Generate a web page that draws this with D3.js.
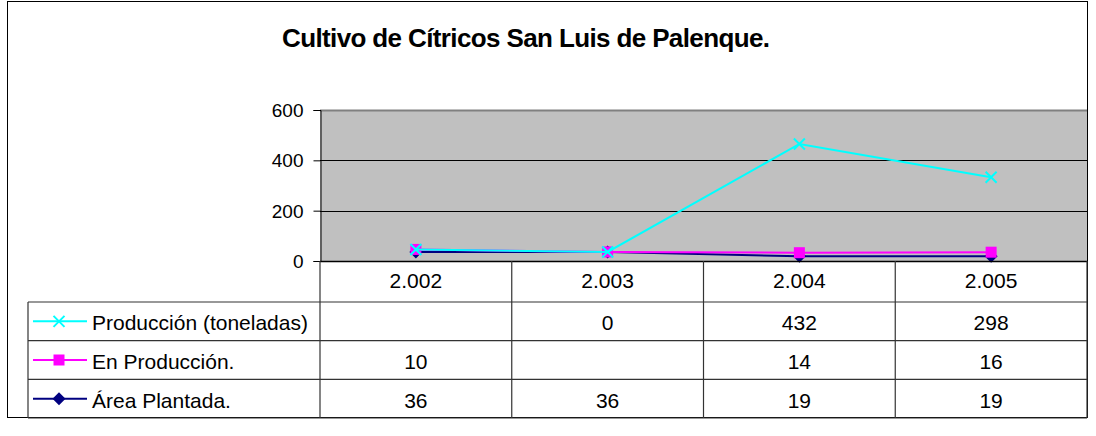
<!DOCTYPE html>
<html>
<head>
<meta charset="utf-8">
<script src="https://cdn.jsdelivr.net/npm/d3@7"></script>
<style>
  body { margin: 0; background: #fff; }
  svg { font-family: "Liberation Sans", Arial, sans-serif; }
</style>
</head>
<body>
<div id="chart"></div>
<script>
// --- Data (table values; chart is a stacked line) ---
const years = ["2.002", "2.003", "2.004", "2.005"];
const seriesNames = ["Producción (toneladas)", "En Producción.", "Área Plantada."];
const produccion = [null, 0, 432, 298];
const enProduccion = [10, null, 14, 16];
const areaPlantada = [36, 36, 19, 19];
const yTicks = [0, 200, 400, 600];

const colors = ["#00FFFF", "#FF00FF", "#000080"];
const markers = ["x", "square", "diamond"];
const rows = [produccion, enProduccion, areaPlantada];

const W = 1096, H = 436;
const plot = { left: 320, right: 1087, top: 110, bottom: 261 };
const tableTop = 302, tableBottom = 418, tableLeft = 28;
const tableFont = 21;

const svg = d3.select("#chart").append("svg")
  .attr("width", W).attr("height", H);

// chart area border
svg.append("rect")
  .attr("x", 7.5).attr("y", 1.5)
  .attr("width", 1080).attr("height", 416)
  .attr("fill", "#fff").attr("stroke", "#000").attr("stroke-width", 1);

// title
svg.append("text")
  .attr("x", 526).attr("y", 47)
  .attr("text-anchor", "middle")
  .attr("font-size", 26).attr("font-weight", "bold")
  .attr("textLength", 488).attr("lengthAdjust", "spacing")
  .text("Cultivo de Cítricos San Luis de Palenque.");

// Scales
const x = d3.scaleBand().domain(years).range([plot.left, plot.right]);
const y = d3.scaleLinear().domain([0, 600]).range([plot.bottom, plot.top]);
const rowY = d3.scaleBand().domain(seriesNames).range([tableTop, tableBottom]);

// plot background
svg.append("rect")
  .attr("x", plot.left).attr("y", plot.top)
  .attr("width", plot.right - plot.left).attr("height", plot.bottom - plot.top)
  .attr("fill", "#C0C0C0");

// gridlines
svg.append("g").selectAll("line")
  .data(yTicks.filter(d => d > 0))
  .enter().append("line")
  .attr("x1", plot.left).attr("x2", plot.right)
  .attr("y1", d => Math.round(y(d)) + 0.5).attr("y2", d => Math.round(y(d)) + 0.5)
  .attr("stroke", d => d === 600 ? "#808080" : "#000").attr("stroke-width", d => d === 600 ? 2 : 1);

// y axis
const yAxis = svg.append("g")
  .attr("transform", `translate(${plot.left + 0.5},0)`)
  .call(d3.axisLeft(y).tickValues(yTicks).tickSize(7).tickPadding(10).tickFormat(d3.format("d")));
yAxis.selectAll("text").attr("font-size", 19).attr("fill", "#000")
  .attr("font-family", "Liberation Sans, Arial, sans-serif").attr("dy", "0.34em");
yAxis.selectAll("line, path").attr("stroke", "#000");

// stacked values (blank treated as zero)
const vals = rows.map(r => r.map(v => v == null ? 0 : v));
const stackArea = vals[2];
const stackEn = vals[1].map((v, i) => v + stackArea[i]);
const stackProd = vals[0].map((v, i) => v + stackEn[i]);
const stacked = [stackProd, stackEn, stackArea];

function drawMarker(g, type, color, cx, cy, s) {
  if (type === "x") {
    g.append("path")
      .attr("d", `M${cx - s},${cy - s}L${cx + s},${cy + s}M${cx - s},${cy + s}L${cx + s},${cy - s}`)
      .attr("stroke", color).attr("stroke-width", 2).attr("fill", "none");
  } else if (type === "square") {
    g.append("rect").attr("x", cx - s).attr("y", cy - s)
      .attr("width", 2 * s).attr("height", 2 * s).attr("fill", color);
  } else {
    g.append("path")
      .attr("d", `M${cx},${cy - s - 1}L${cx + s + 1},${cy}L${cx},${cy + s + 1}L${cx - s - 1},${cy}Z`)
      .attr("fill", color);
  }
}

const line = d3.line().x((d, i) => x(years[i]) + x.bandwidth() / 2).y(d => y(d));

// draw bottom series first
[2, 1, 0].forEach(k => {
  const g = svg.append("g");
  g.append("path").datum(stacked[k])
    .attr("d", line).attr("fill", "none")
    .attr("stroke", colors[k]).attr("stroke-width", 2);
  stacked[k].forEach((v, i) => {
    drawMarker(g, markers[k], colors[k], x(years[i]) + x.bandwidth() / 2, y(v), 5.5);
  });
});

// bottom axis line
svg.append("line").attr("x1", plot.left).attr("x2", plot.right)
  .attr("y1", plot.bottom + 0.5).attr("y2", plot.bottom + 0.5)
  .attr("stroke", "#000").attr("stroke-width", 1.5);

// --- data table ---
const grid = svg.append("g").attr("stroke", "#333").attr("stroke-width", 1.2);
years.concat(["end"]).forEach((yr, i) => {
  const xx = i < years.length ? x(yr) : plot.right;
  grid.append("line").attr("x1", xx).attr("x2", xx)
    .attr("y1", plot.bottom).attr("y2", tableBottom);
});
grid.append("line").attr("x1", tableLeft).attr("x2", tableLeft)
  .attr("y1", tableTop).attr("y2", tableBottom);
seriesNames.forEach(n => {
  grid.append("line").attr("x1", tableLeft).attr("x2", plot.right)
    .attr("y1", rowY(n)).attr("y2", rowY(n));
});
grid.append("line").attr("x1", tableLeft).attr("x2", plot.right)
  .attr("y1", tableBottom).attr("y2", tableBottom);

// header labels
svg.append("g").selectAll("text")
  .data(years).enter().append("text")
  .attr("x", d => x(d) + x.bandwidth() / 2)
  .attr("y", 288)
  .attr("text-anchor", "middle").attr("font-size", tableFont)
  .text(d => d);

// rows
seriesNames.forEach((name, k) => {
  const cy = rowY(name) + rowY.bandwidth() / 2;
  const g = svg.append("g");
  g.append("line").attr("x1", 33).attr("x2", 87)
    .attr("y1", cy).attr("y2", cy)
    .attr("stroke", colors[k]).attr("stroke-width", 2);
  drawMarker(g, markers[k], colors[k], 59, cy, 5.5);
  g.append("text").attr("x", 92).attr("y", cy + 9)
    .attr("font-size", tableFont).text(name);
  rows[k].forEach((v, i) => {
    if (v == null) return;
    g.append("text")
      .attr("x", x(years[i]) + x.bandwidth() / 2).attr("y", cy + 9)
      .attr("text-anchor", "middle").attr("font-size", tableFont)
      .text(v);
  });
});
</script>
</body>
</html>
